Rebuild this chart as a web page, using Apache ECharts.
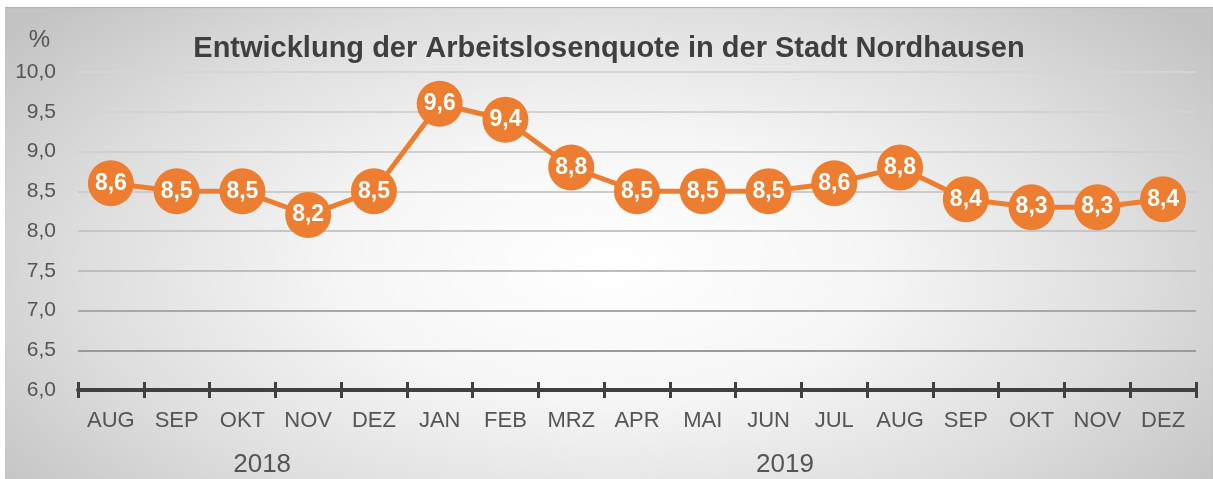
<!DOCTYPE html>
<html>
<head>
<meta charset="utf-8">
<script src="https://cdn.jsdelivr.net/npm/echarts@6/dist/echarts.min.js"></script>
<style>
  html, body { margin: 0; padding: 0; background: #fff; }
  #chart {
    position: absolute; left: 5px; top: 7px; width: 1208px; height: 472px;
    background: radial-gradient(ellipse 62% 80% at 50% 55%, #ffffff 0%, #f6f6f6 35%, #dedede 70%, #c4c4c4 100%);
    box-shadow: inset 0 1px 1px #b0b0b0;
  }
</style>
</head>
<body>
<div id="chart"></div>
<script>
// Monate Aug 2018 – Dez 2019
const months = ['AUG', 'SEP', 'OKT', 'NOV', 'DEZ', 'JAN', 'FEB', 'MRZ', 'APR', 'MAI', 'JUN', 'JUL', 'AUG', 'SEP', 'OKT', 'NOV', 'DEZ'];
const quote = [8.6, 8.5, 8.5, 8.2, 8.5, 9.6, 9.4, 8.8, 8.5, 8.5, 8.5, 8.6, 8.8, 8.4, 8.3, 8.3, 8.4];
const years = ['2018', '2019'];
const yearPos = [2.8, 10.75];

const fmt = v => v.toFixed(1).replace('.', ',');
const font = '"Liberation Sans", Arial, sans-serif';

const chart = echarts.init(document.getElementById('chart'));

chart.setOption({
  animation: false,
  textStyle: { fontFamily: font },
  title: {
    text: 'Entwicklung der Arbeitslosenquote in der Stadt Nordhausen',
    left: 'center',
    top: 22,
    textStyle: { fontSize: 29, fontWeight: 'bold', color: '#3f3f3f', fontFamily: font }
  },
  grid: { left: 73, right: 17, top: 65, bottom: 89 },
  xAxis: [
    {
      type: 'category',
      data: months,
      boundaryGap: true,
      axisLine: { lineStyle: { color: '#404040', width: 4 } },
      axisTick: { show: true, interval: 0, length: 8, lineStyle: { color: '#404040', width: 3 } },
      axisLabel: { color: '#555', fontSize: 22, margin: 20 }
    },
    {
      type: 'category',
      data: months,
      position: 'bottom',
      boundaryGap: true,
      axisLine: { show: false },
      axisTick: { show: true, interval: 0, inside: true, length: 8, lineStyle: { color: '#404040', width: 3 } },
      axisLabel: { show: false }
    },
    {
      type: 'value',
      min: 0,
      max: 17,
      position: 'bottom',
      axisLine: { show: false },
      axisTick: { show: false },
      splitLine: { show: false },
      axisLabel: {
        customValues: yearPos,
        formatter: v => years[yearPos.indexOf(v)],
        color: '#555',
        fontSize: 26,
        margin: 62
      }
    }
  ],
  yAxis: {
    type: 'value',
    min: 6,
    max: 10,
    interval: 0.5,
    name: '%',
    nameGap: 20,
    nameTextStyle: { color: '#555', fontSize: 24, align: 'right', padding: [0, 28, 0, 0] },
    axisLine: { show: false },
    axisTick: { show: false },
    axisLabel: { color: '#555', fontSize: 21, margin: 22, formatter: fmt },
    splitLine: {
      lineStyle: {
        width: 2,
        color: ['#999', '#9a9a9a', '#a8a8a8', '#bdbdbd', '#c6c6c6', '#cccccc', '#d0d0d0', '#d3d3d3', '#d5d5d5']
      }
    }
  },
  series: [{
    type: 'line',
    data: quote,
    symbol: 'circle',
    symbolSize: 46,
    itemStyle: { color: '#ED7D31' },
    lineStyle: { color: '#ED7D31', width: 5 },
    label: {
      show: true,
      position: 'inside',
      formatter: p => fmt(p.value),
      color: '#fff',
      fontSize: 23,
      fontWeight: 'bold',
      fontFamily: font
    }
  }]
});
</script>
</body>
</html>
